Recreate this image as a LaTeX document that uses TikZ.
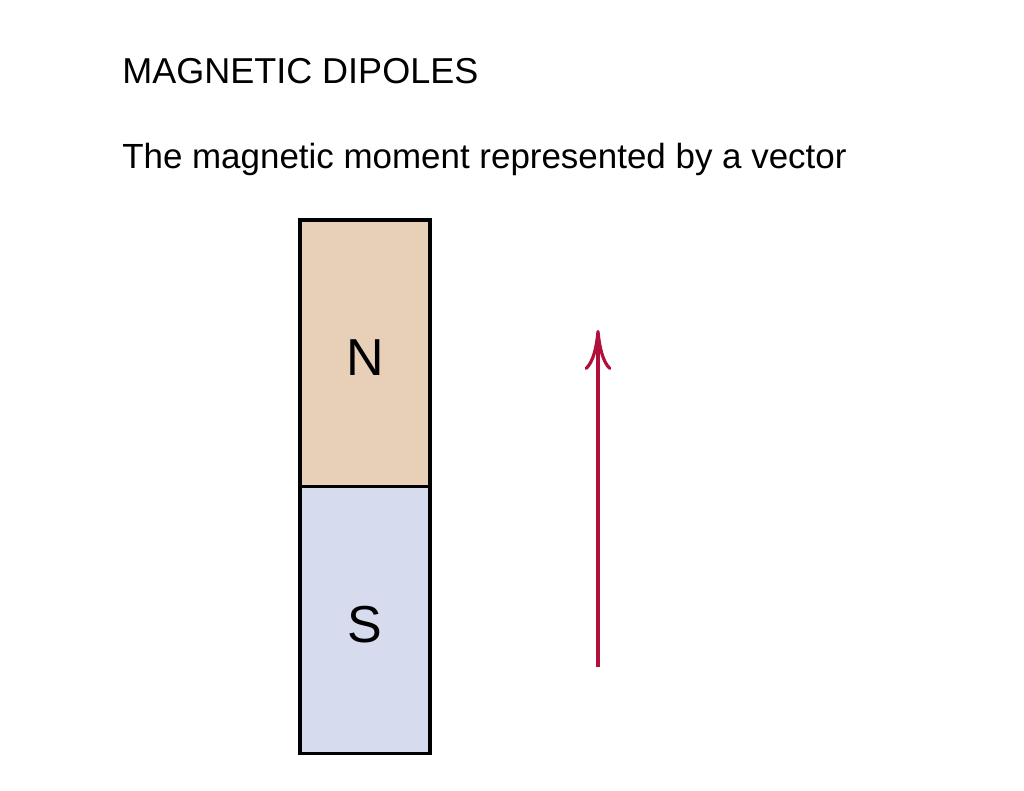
\documentclass[tikz,border=0pt]{standalone}
\usepackage{fontspec}
\setmainfont{Liberation Sans}
\usetikzlibrary{arrows.meta,positioning}
\definecolor{northpole}{RGB}{232,207,183}
\definecolor{southpole}{RGB}{214,219,238}
\definecolor{momentred}{RGB}{176,16,58}
\tikzset{
    pole/.style={draw, line width=2.6pt, inner sep=0pt, outer sep=0pt,
        minimum width=97.5pt, minimum height=200pt,
        text height=33pt, text depth=0pt,
        font=\fontsize{39}{44}\selectfont},
    heading/.style={anchor=base west, inner sep=0pt,
        font=\fontsize{27}{32}\selectfont},
    moment/.style={draw=momentred, line width=2.6pt,
        -{To[length=30pt, width=20pt, line width=2.4pt]}}
}
\begin{document}
\begin{tikzpicture}[x=0.75pt, y=-0.75pt]
    \useasboundingbox (0,0) rectangle (1024,791);
    % titles
    \node[heading] (title) at (122,84) {MAGNETIC DIPOLES};
    \node[heading, font=\fontsize{26.2}{31}\selectfont] (subtitle) at (122,169) {The magnetic moment represented by a vector};
    % bar magnet
    \node[pole, fill=northpole, anchor=north] (north) at (365,220) {N};
    \node[pole, fill=southpole, below=0pt of north] (south) {S};
    % moment vector
    \coordinate (tail) at (598,667);
    \coordinate (tip) at (598,330);
    \draw[moment] (tail) -- (tip);
\end{tikzpicture}
\end{document}
